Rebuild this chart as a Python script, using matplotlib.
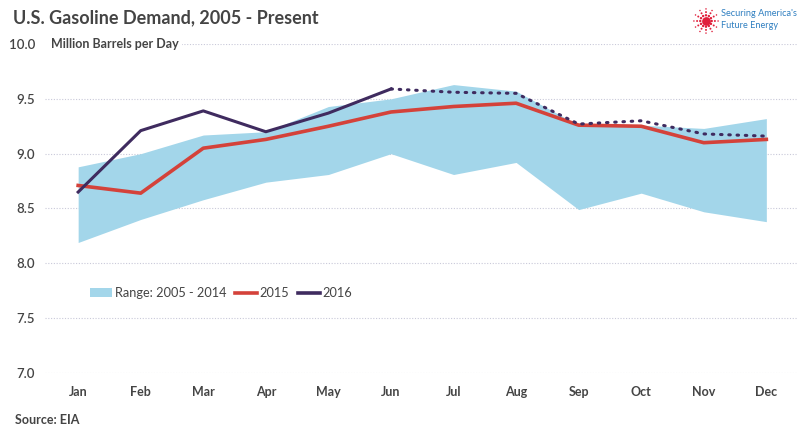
import matplotlib
matplotlib.use("Agg")
import matplotlib.pyplot as plt
import numpy as np
from matplotlib.patches import Patch
from matplotlib.lines import Line2D

plt.rcParams['font.family'] = ['Lato', 'DejaVu Sans']

months = ["Jan", "Feb", "Mar", "Apr", "May", "Jun", "Jul", "Aug", "Sep", "Oct", "Nov", "Dec"]
range_high = [8.88, 9.00, 9.17, 9.20, 9.43, 9.50, 9.63, 9.57, 9.26, 9.26, 9.23, 9.32]
range_low = [8.19, 8.40, 8.58, 8.74, 8.81, 9.00, 8.81, 8.92, 8.49, 8.64, 8.47, 8.38]
demand_2015 = [8.71, 8.64, 9.05, 9.13, 9.25, 9.38, 9.43, 9.46, 9.26, 9.25, 9.10, 9.13]
demand_2016 = [8.65, 9.21, 9.39, 9.20, 9.37, 9.59]
demand_2016_dotted = [9.59, 9.56, 9.55, 9.27, 9.30, 9.18, 9.16]
yticks = [7.0, 7.5, 8.0, 8.5, 9.0, 9.5, 10.0]

c_range = '#a3d6ea'
c_2015 = '#d4423a'
c_2016 = '#3f2b5f'
c_text = '#444444'

fig = plt.figure(figsize=(7.98, 4.40), dpi=100)
ax = fig.add_axes([45/798, 67/440, 752/798, 329/440])

x = np.arange(len(months))
ax.fill_between(x, range_low, range_high, color=c_range, lw=0, zorder=2)
ax.plot(x, demand_2015, color=c_2015, lw=2.6, zorder=3, solid_joinstyle='round')
ax.plot(x[:len(demand_2016)], demand_2016, color=c_2016, lw=2.2, zorder=4)
xd = x[len(demand_2016)-1:]
ax.plot(xd, demand_2016_dotted, color=c_2016, lw=2.2, ls=(0, (0.5, 2.2)),
        dash_capstyle='round', zorder=4)

ax.set_xlim(-0.53, 11.49)
ax.set_ylim(7.0, 10.0)
ax.set_yticks(yticks)
ax.set_yticklabels([f"{v:.1f}" for v in yticks])
ax.set_xticks(x)
ax.set_xticklabels(months)
for s in ax.spines.values():
    s.set_visible(False)
ax.tick_params(axis='both', length=0, colors=c_text)
ax.tick_params(axis='y', pad=7, labelsize=9.5)
ax.tick_params(axis='x', pad=9, labelsize=9)
for lbl in ax.get_xticklabels():
    lbl.set_fontweight('bold')
for lbl in ax.get_yticklabels():
    lbl.set_fontweight('semibold')
ax.yaxis.grid(True, color='#c9c9d9', ls=(0, (1, 1.5)), lw=0.8, zorder=1)
ax.set_axisbelow(True)

ax.text(0.0, 10.0, "  Million Barrels per Day", transform=ax.get_yaxis_transform(),
        ha='left', va='center', fontsize=9, fontweight='bold', color=c_text,
        bbox=dict(facecolor='white', edgecolor='none', pad=2), zorder=5)

handles = [Patch(facecolor=c_range, edgecolor='none'),
           Line2D([], [], color=c_2015, lw=2.6),
           Line2D([], [], color=c_2016, lw=2.6)]
ax.legend(handles, ["Range: 2005 - 2014", "2015", "2016"], loc='center left',
          bbox_to_anchor=(0.045, 0.243), ncol=3, frameon=False, fontsize=9.2,
          handlelength=1.7, handletextpad=0.2, columnspacing=0.7,
          labelcolor=c_text)

fig.text(13/798, 1 - 18/440, "U.S. Gasoline Demand, 2005 - Present", fontsize=13,
         fontweight='bold', color=c_text, ha='left', va='center')
fig.text(15/798, 1 - 420/440, "Source: EIA", fontsize=9, fontweight='bold',
         color=c_text, ha='left', va='center')

# logo
lax = fig.add_axes([692/798, 1 - 35/440, 28/798, 28/440])
lax.set_xlim(-1.1, 1.1)
lax.set_ylim(-1.1, 1.1)
lax.set_aspect('equal')
lax.axis('off')
for k in range(12):
    a = k * np.pi / 6
    r = np.array([0.45, 0.7, 0.95])
    lax.scatter(r * np.cos(a), r * np.sin(a), s=[3, 2, 1.2], color='#e0203c', lw=0)
lax.scatter([0], [0], s=40, color='#e0203c', lw=0)
fig.text(721/798, 1 - 14/440, "Securing America's", fontsize=6.6, color='#2f7fc0',
         ha='left', va='center')
fig.text(721/798, 1 - 25/440, "Future Energy", fontsize=6.6, color='#2f7fc0',
         ha='left', va='center')

fig.savefig("out.png", dpi=100, facecolor='white')
